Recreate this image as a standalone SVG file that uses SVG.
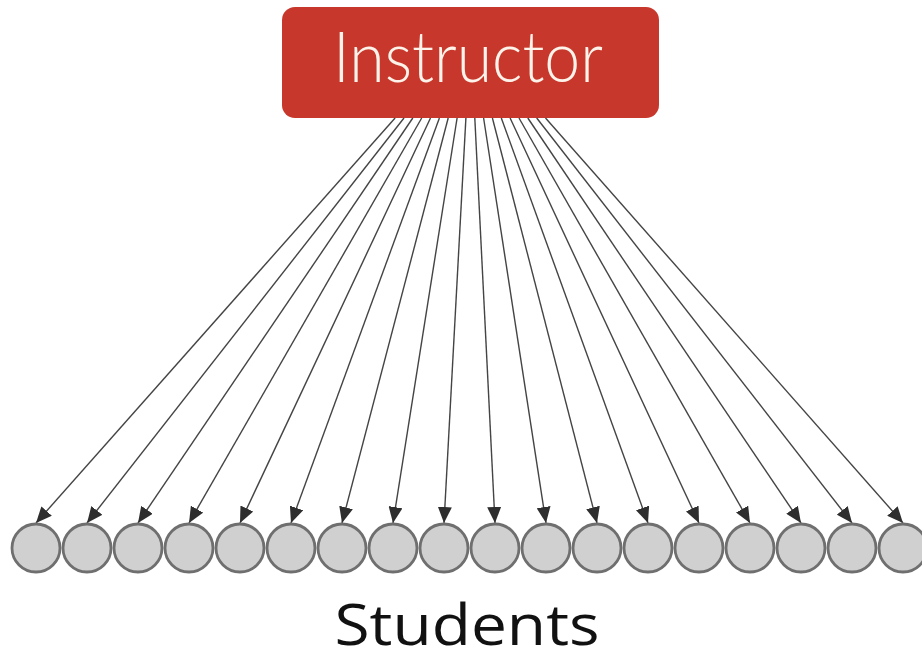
<svg xmlns="http://www.w3.org/2000/svg" width="922" height="662" viewBox="0 0 922 662">
<style>
.conn line{stroke:#444;stroke-width:1.4;fill:none}
.stu circle{fill:#d0d0d1;stroke:#6f6f6f;stroke-width:2.8}
.lbl{font-family:"Lato","Open Sans",sans-serif;font-weight:300;fill:#fdf3ea}
.cap{font-family:"Open Sans","Noto Sans",sans-serif;fill:#111}
</style>
<defs>
<marker id="ah" viewBox="0 0 16 14" refX="16" refY="7" markerWidth="16" markerHeight="14" markerUnits="userSpaceOnUse" orient="auto">
<path d="M0,0 L16,7 L0,14 z" fill="#2e2e2e"/>
</marker>
</defs>
<rect width="922" height="662" fill="#fff"/>
<g id="instructor">
<rect x="282" y="7" width="377" height="111" rx="13" fill="#c8372b"/>
<text class="lbl" x="468" y="82" font-size="70" text-anchor="middle" textLength="270" lengthAdjust="spacingAndGlyphs">Instructor</text>
</g>
<g id="connectors" class="conn">
<line x1="395.1" y1="118" x2="36" y2="523" marker-end="url(#ah)"/>
<line x1="404.0" y1="118" x2="87" y2="523" marker-end="url(#ah)"/>
<line x1="412.8" y1="118" x2="138" y2="523" marker-end="url(#ah)"/>
<line x1="421.7" y1="118" x2="189" y2="523" marker-end="url(#ah)"/>
<line x1="430.5" y1="118" x2="240" y2="523" marker-end="url(#ah)"/>
<line x1="439.4" y1="118" x2="291" y2="523" marker-end="url(#ah)"/>
<line x1="448.2" y1="118" x2="342" y2="523" marker-end="url(#ah)"/>
<line x1="457.1" y1="118" x2="393" y2="523" marker-end="url(#ah)"/>
<line x1="465.9" y1="118" x2="444" y2="523" marker-end="url(#ah)"/>
<line x1="474.8" y1="118" x2="495" y2="523" marker-end="url(#ah)"/>
<line x1="483.6" y1="118" x2="546" y2="523" marker-end="url(#ah)"/>
<line x1="492.4" y1="118" x2="597" y2="523" marker-end="url(#ah)"/>
<line x1="501.3" y1="118" x2="648" y2="523" marker-end="url(#ah)"/>
<line x1="510.1" y1="118" x2="699" y2="523" marker-end="url(#ah)"/>
<line x1="519.0" y1="118" x2="750" y2="523" marker-end="url(#ah)"/>
<line x1="527.8" y1="118" x2="801" y2="523" marker-end="url(#ah)"/>
<line x1="536.7" y1="118" x2="852" y2="523" marker-end="url(#ah)"/>
<line x1="545.5" y1="118" x2="903" y2="523" marker-end="url(#ah)"/>
</g>
<g id="students" class="stu">
<g id="s1"><circle cx="36" cy="548" r="24"/></g>
<g id="s2"><circle cx="87" cy="548" r="24"/></g>
<g id="s3"><circle cx="138" cy="548" r="24"/></g>
<g id="s4"><circle cx="189" cy="548" r="24"/></g>
<g id="s5"><circle cx="240" cy="548" r="24"/></g>
<g id="s6"><circle cx="291" cy="548" r="24"/></g>
<g id="s7"><circle cx="342" cy="548" r="24"/></g>
<g id="s8"><circle cx="393" cy="548" r="24"/></g>
<g id="s9"><circle cx="444" cy="548" r="24"/></g>
<g id="s10"><circle cx="495" cy="548" r="24"/></g>
<g id="s11"><circle cx="546" cy="548" r="24"/></g>
<g id="s12"><circle cx="597" cy="548" r="24"/></g>
<g id="s13"><circle cx="648" cy="548" r="24"/></g>
<g id="s14"><circle cx="699" cy="548" r="24"/></g>
<g id="s15"><circle cx="750" cy="548" r="24"/></g>
<g id="s16"><circle cx="801" cy="548" r="24"/></g>
<g id="s17"><circle cx="852" cy="548" r="24"/></g>
<g id="s18"><circle cx="903" cy="548" r="24"/></g>
</g>
<g id="students-label">
<text class="cap" x="467" y="645" font-size="57" text-anchor="middle" textLength="265" lengthAdjust="spacingAndGlyphs">Students</text>
</g>
</svg>
